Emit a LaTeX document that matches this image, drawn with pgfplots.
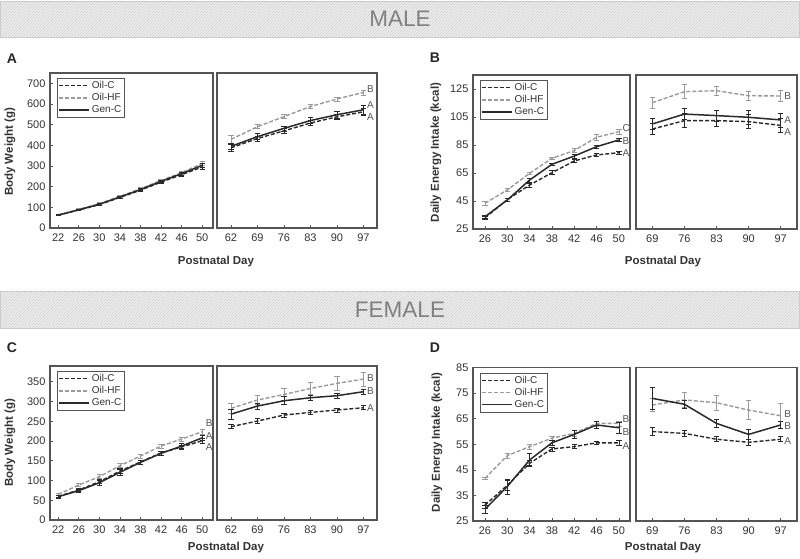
\documentclass[border=0pt]{standalone}
\usepackage{pgfplots}
\pgfplotsset{compat=1.18}
\usepackage{pgfplotstable}
\usepackage{fontspec}
\setmainfont{Liberation Sans}
\usetikzlibrary{patterns}

\definecolor{axc}{HTML}{555555}
\definecolor{dk}{HTML}{2A2A2A}
\definecolor{lt}{HTML}{9A9A9A}
\definecolor{txt}{HTML}{333333}

% Male body weight, early
\pgfplotstableread{
x   c    ce  h    he  g    ge
22  63   2   64   2   62   2
26  87   3   90   3   88   3
30  113  4   118  4   115  4
34  148  5   153  5   150  5
38  183  6   190  6   186  6
42  222  7   230  7   226  7
46  258  8   268  8   263  8
50  295  9   312  9   303  10
}\tblAL
\pgfplotstableread{
x   c    ce  h    he  g    ge
62  388  15  429  18  395  15
69  433  12  490  10  442  15
76  470  12  539  10  482  12
83  508  12  588  10  520  14
90  538  14  624  10  548  16
97  562  15  656  12  572  20
}\tblAR
\pgfplotstableread{
x   c     ce   h     he   g     ge
26  33.0  1.0  43.4  1.5  33.8  1.0
30  46.0  1.0  52.9  1.0  45.7  1.0
34  56.4  1.5  64.8  1.0  60.0  1.5
38  65.2  1.5  75.5  1.0  71.2  1.0
42  73.6  1.0  81.0  1.5  77.1  1.5
46  77.9  1.0  90.5  2.0  83.8  1.0
50  79.5  1.0  94.5  2.0  88.6  1.0
}\tblBL
\pgfplotstableread{
x   c     ce   h     he   g     ge
69  96.4  4    115.2 4    100.0 4
76  102.4 5    123.1 5    107.1 4
83  102.4 4    123.8 3    106.0 4
90  101.7 5    120.2 3    104.8 5
97  99.0  5    120.0 4    102.9 5
}\tblBR
\pgfplotstableread{
x   c     ce   h     he   g     ge
22  60.0  3    65.0  3    59.0  3
26  76.0  3    88.6  3    74.3  3
30  97.0  5    109.7 5    94.5  6
34  124.0 6    137.5 5    120.7 7
38  147.0 5    162.0 5    146.0 6
42  170.0 5    187.3 5    168.8 6
46  185.0 5    205.0 5    187.3 6
50  200.7 6    223.6 6    208.0 7
}\tblCL
\pgfplotstableread{
x   c     ce   h     he   g     ge
62  236.3 5    282.8 12   268.0 12
69  250.6 6    303.8 12   288.6 8
76  265.8 5    318.0 15   302.0 10
83  272.5 5    333.0 15   309.6 7
90  278.5 5    346.0 18   314.8 6
97  284.3 5    357.0 18   324.9 6
}\tblCR
\pgfplotstableread{
x   c     ce   h     he   g     ge
26  31.2  1.2  41.7  0.5  29.6  1.5
30  39.0  2.0  50.6  1.0  38.5  3.0
34  47.6  1.0  54.1  1.0  48.9  2.5
38  53.2  0.8  57.4  0.8  55.6  1.0
42  54.1  0.8  59.3  1.0  58.9  1.5
46  55.6  0.5  63.2  1.0  62.6  1.5
50  55.6  0.8  63.2  1.0  61.5  2.0
}\tblDL
\pgfplotstableread{
x   c     ce   h     he   g     ge
69  60.0  1.5  70.4  2.5  73.0  4.4
76  59.3  1.0  72.4  3.0  70.7  1.5
83  57.0  1.0  71.3  3.0  63.2  1.5
90  55.8  1.0  68.4  3.7  58.9  2.0
97  57.0  1.0  66.2  5.0  62.6  1.5
}\tblDR

\pgfplotsset{
  panel/.style={scale only axis, clip=false,
    axis line style={draw=axc, line width=1.3pt},
    tick align=inside, xtick pos=bottom, ytick pos=left,
    major tick length=3pt, tick style={axc, line width=0.7pt},
    ticklabel style={font=\fontsize{11}{12}\selectfont, text=txt},
    /pgf/number format/assume math mode=true,
    yticklabel style={xshift=-1pt},
    xticklabel style={yshift=-2pt}},
  norighty/.style={ytick=\empty},
  ebar/.style={/pgfplots/error bars/y dir=both, /pgfplots/error bars/y explicit,
    /pgfplots/error bars/error bar style={solid, line width=0.7pt},
    /pgfplots/error bars/error mark options={solid, rotate=90, mark size=2.7pt, line width=0.7pt}},
  oilc/.style={dk, line width=1.4pt, dash pattern=on 4pt off 2pt, mark=none, ebar},
  oilhf/.style={lt, line width=1.4pt, dash pattern=on 4pt off 2pt, mark=none, ebar},
  genc/.style={dk, line width=1.5pt, solid, mark=none, ebar},
  leg/.style={legend style={at={(0.043,0.968)}, anchor=north west, draw=axc, line width=0.8pt,
    font=\fontsize{10}{11}\selectfont, inner sep=1pt, row sep=-0.5pt, text=txt, cells={anchor=west}},
    legend image code/.code={\draw[##1, line width=1.5pt] (0pt,0pt) -- (30pt,0pt);}}
}
\tikzset{lett/.style={anchor=west, font=\fontsize{10}{11}\selectfont, text=axc, inner sep=0.5pt, xshift=3pt}}

\begin{document}
\begin{tikzpicture}
\useasboundingbox (0,0) rectangle (800pt,-558pt);

% banners
\foreach \yt/\yb in {-1/-37, -291/-328}{
  \fill[gray!12] (0.5pt,\yt pt) rectangle (799.5pt,\yb pt);
  \fill[pattern=north east lines, pattern color=gray!40] (0.5pt,\yt pt) rectangle (799.5pt,\yb pt);
  \draw[gray!40, line width=1pt] (0.5pt,\yt pt) rectangle (799.5pt,\yb pt);
}
\node[font=\fontsize{22.5}{24}\selectfont, text=black!50] at (400pt,-19pt) {MALE};
\node[font=\fontsize{22.5}{24}\selectfont, text=black!50] at (400pt,-309.5pt) {FEMALE};

% ---------- A ----------
\begin{axis}[panel, leg, at={(50pt,-73pt)}, anchor=north west, width=163pt, height=155pt,
  xmin=20.4, xmax=52.1, ymin=0, ymax=750, xtick={22,26,...,50}, ytick={0,100,...,700}]
\addplot[oilc] table[x=x, y=c, y error=ce] {\tblAL}; \addlegendentry{Oil-C}
\addplot[oilhf] table[x=x, y=h, y error=he] {\tblAL}; \addlegendentry{Oil-HF}
\addplot[genc] table[x=x, y=g, y error=ge] {\tblAL}; \addlegendentry{Gen-C}
\end{axis}
\begin{axis}[panel, norighty, at={(217pt,-73pt)}, anchor=north west, width=160pt, height=155pt,
  xmin=58.3, xmax=100.6, ymin=0, ymax=750, xtick={62,69,...,97}]
\addplot[oilc] table[x=x, y=c, y error=ce] {\tblAR};
\addplot[oilhf] table[x=x, y=h, y error=he] {\tblAR};
\addplot[genc] table[x=x, y=g, y error=ge] {\tblAR};
\node[lett] at (axis cs:97,674) {B};
\node[lett] at (axis cs:97,596) {A};
\node[lett] at (axis cs:97,539) {A};
\end{axis}

% ---------- B ----------
\begin{axis}[panel, leg, at={(473pt,-75pt)}, anchor=north west, width=157pt, height=154pt,
  xmin=23.85, xmax=52, ymin=25, ymax=135, xtick={26,30,...,50}, ytick={25,45,...,125}]
\addplot[oilc] table[x=x, y=c, y error=ce] {\tblBL}; \addlegendentry{Oil-C}
\addplot[oilhf] table[x=x, y=h, y error=he] {\tblBL}; \addlegendentry{Oil-HF}
\addplot[genc] table[x=x, y=g, y error=ge] {\tblBL}; \addlegendentry{Gen-C}
\node[lett] at (axis cs:50,96.9) {C};
\node[lett] at (axis cs:50,87.9) {B};
\node[lett] at (axis cs:50,79.5) {A};
\end{axis}
\begin{axis}[panel, norighty, at={(636pt,-75pt)}, anchor=north west, width=161pt, height=154pt,
  xmin=65.45, xmax=100.55, ymin=25, ymax=135, xtick={69,76,...,97}]
\addplot[oilc] table[x=x, y=c, y error=ce] {\tblBR};
\addplot[oilhf] table[x=x, y=h, y error=he] {\tblBR};
\addplot[genc] table[x=x, y=g, y error=ge] {\tblBR};
\node[lett] at (axis cs:97,120) {B};
\node[lett] at (axis cs:97,102.9) {A};
\node[lett] at (axis cs:97,94.5) {A};
\end{axis}

% ---------- C ----------
\begin{axis}[panel, leg, at={(50pt,-366pt)}, anchor=north west, width=163pt, height=154pt,
  xmin=20.4, xmax=52.1, ymin=0, ymax=390, xtick={22,26,...,50}, ytick={0,50,...,350}]
\addplot[oilc] table[x=x, y=c, y error=ce] {\tblCL}; \addlegendentry{Oil-C}
\addplot[oilhf] table[x=x, y=h, y error=he] {\tblCL}; \addlegendentry{Oil-HF}
\addplot[genc] table[x=x, y=g, y error=ge] {\tblCL}; \addlegendentry{Gen-C}
\node[lett] at (axis cs:50,244.8) {B};
\node[lett] at (axis cs:50,213.4) {A};
\node[lett] at (axis cs:50,184) {A};
\end{axis}
\begin{axis}[panel, norighty, at={(217pt,-366pt)}, anchor=north west, width=160pt, height=154pt,
  xmin=58.3, xmax=100.6, ymin=0, ymax=390, xtick={62,69,...,97}]
\addplot[oilc] table[x=x, y=c, y error=ce] {\tblCR};
\addplot[oilhf] table[x=x, y=h, y error=he] {\tblCR};
\addplot[genc] table[x=x, y=g, y error=ge] {\tblCR};
\node[lett] at (axis cs:97,358.7) {B};
\node[lett] at (axis cs:97,327.3) {B};
\node[lett] at (axis cs:97,282.8) {A};
\end{axis}

% ---------- D ----------
\begin{axis}[panel, leg, at={(473pt,-367.7pt)}, anchor=north west, width=157pt, height=153.3pt,
  xmin=23.85, xmax=52, ymin=25, ymax=85, xtick={26,30,...,50}, ytick={25,35,...,85}]
\addplot[oilc] table[x=x, y=c, y error=ce] {\tblDL}; \addlegendentry{Oil-C}
\addplot[oilhf] table[x=x, y=h, y error=he] {\tblDL}; \addlegendentry{Oil-HF}
\addplot[genc] table[x=x, y=g, y error=ge] {\tblDL}; \addlegendentry{Gen-C}
\node[lett] at (axis cs:50,64.9) {B};
\node[lett] at (axis cs:50,60) {B};
\node[lett] at (axis cs:50,54.5) {A};
\end{axis}
\begin{axis}[panel, norighty, at={(636pt,-367.7pt)}, anchor=north west, width=161pt, height=153.3pt,
  xmin=65.45, xmax=100.55, ymin=25, ymax=85, xtick={69,76,...,97}]
\addplot[oilc] table[x=x, y=c, y error=ce] {\tblDR};
\addplot[oilhf] table[x=x, y=h, y error=he] {\tblDR};
\addplot[genc] table[x=x, y=g, y error=ge] {\tblDR};
\node[lett] at (axis cs:97,66.9) {B};
\node[lett] at (axis cs:97,62.2) {B};
\node[lett] at (axis cs:97,56.3) {A};
\end{axis}

% labels
\tikzset{plab/.style={font=\fontsize{14}{16}\selectfont\bfseries, text=black!85},
         axl/.style={font=\fontsize{11.5}{13}\selectfont\bfseries, text=txt}}
\node[plab] at (12pt,-59pt) {A};
\node[plab] at (435pt,-58pt) {B};
\node[plab] at (12pt,-348pt) {C};
\node[plab] at (435pt,-348pt) {D};
\node[axl, rotate=90] at (10pt,-152pt) {Body Weight (g)};
\node[axl, rotate=90] at (10pt,-443pt) {Body Weight (g)};
\node[axl, rotate=90] at (436pt,-152.5pt) {Daily Energy Intake (kcal)};
\node[axl, rotate=90] at (437pt,-442.5pt) {Daily Energy Intake (kcal)};
\node[axl] at (216pt,-262pt) {Postnatal Day};
\node[axl] at (663pt,-262pt) {Postnatal Day};
\node[axl] at (226pt,-548pt) {Postnatal Day};
\node[axl] at (663pt,-548pt) {Postnatal Day};
\end{tikzpicture}
\end{document}
